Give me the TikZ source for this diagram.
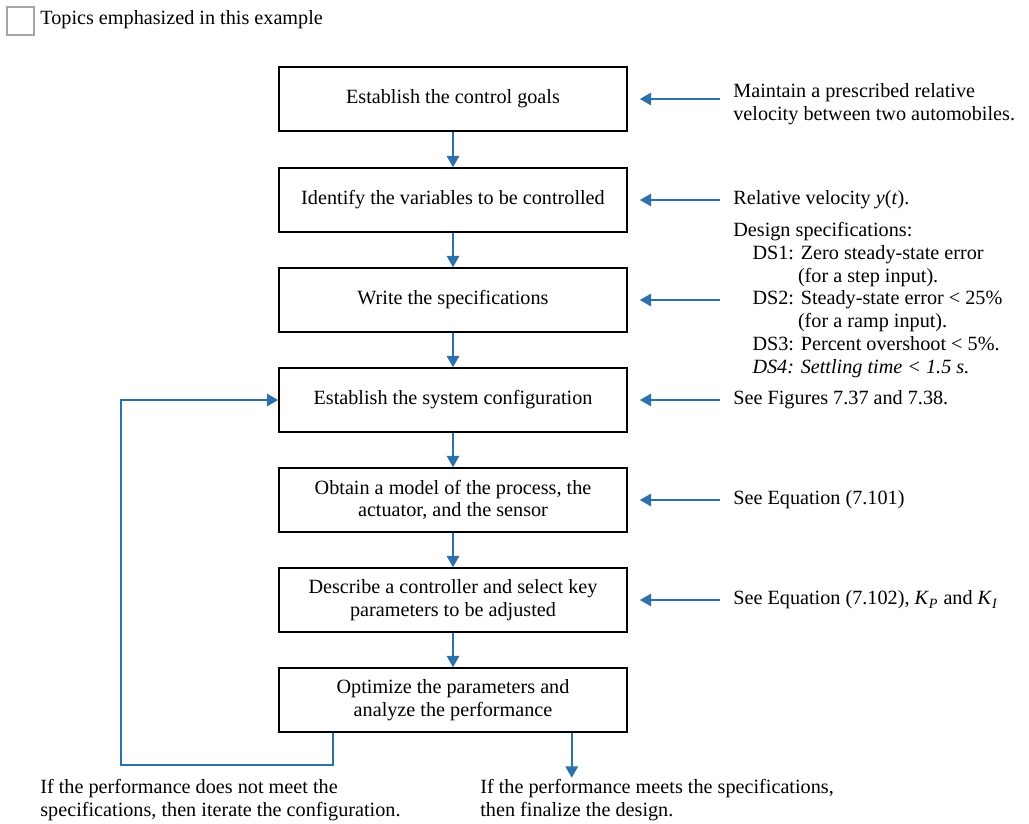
\documentclass[tikz,border=0pt]{standalone}
\usepackage{fontspec}
\setmainfont{Liberation Serif}
\usetikzlibrary{arrows.meta}
\definecolor{cflow}{RGB}{44,112,172}

\begin{document}
\begin{tikzpicture}[x=0.02cm,y=-0.02cm,
    every node/.style={font=\fontsize{11.5}{13}\selectfont},
    stage/.style={draw=black,line width=0.9pt,minimum width=6.96cm,minimum height=1.28cm,align=center,inner sep=2pt},
    note/.style={anchor=west,align=left,inner sep=0pt},
    flow/.style={draw=cflow,line width=1.4pt,-{Triangle[length=6.5pt,width=7pt]}}]
  \useasboundingbox (0,0) rectangle (1029,823);
  % legend
  \node[draw=gray!70,line width=0.6pt,minimum width=0.54cm,minimum height=0.56cm,inner sep=0pt] (legend) at (20.5,21) {};
  \node[note] (legendtxt) at (40,20) {Topics emphasized in this example};
  % design steps
  \foreach \n/\yy/\txt in {goals/99/{Establish the control goals},
      vars/200/{Identify the variables to be controlled},
      specs/300/{Write the specifications},
      config/400/{Establish the system configuration},
      model/500/{Obtain a model of the process, the\\actuator, and the sensor},
      ctrl/600/{Describe a controller and select key\\parameters to be adjusted},
      opt/700/{Optimize the parameters and\\analyze the performance}}
    \node[stage] (\n) at (453,\yy) {\txt};
  \foreach \a/\b in {goals/vars,vars/specs,specs/config,config/model,model/ctrl,ctrl/opt}
    \draw[flow] (\a) -- (\b);
  % notes on the right
  \node[note] (ngoals) at (733,104) {Maintain a prescribed relative\\velocity between two automobiles.};
  \node[note] (nvars) at (733,200) {Relative velocity \textit{y}(\textit{t}).};
  \node[note] (nspecs) at (733,300) {Design specifications:\\
      \hspace*{0.95em}DS1: Zero steady-state error\\
      \hspace*{3.2em}(for a step input).\\
      \hspace*{0.95em}DS2: Steady-state error < 25\%\\
      \hspace*{3.2em}(for a ramp input).\\
      \hspace*{0.95em}DS3: Percent overshoot < 5\%.\\
      \hspace*{0.95em}\textit{DS4: Settling time < 1.5 s.}};
  \node[note] (nconfig) at (733,400) {See Figures 7.37 and 7.38.};
  \node[note] (nmodel) at (733,500) {See Equation (7.101)};
  \node[note] (nctrl) at (733,600) {See Equation (7.102), \textit{K}\textsubscript{\textit{P}} and \textit{K}\textsubscript{\textit{I}}};
  \foreach \n in {goals,vars,specs,config,model,ctrl} {
    \coordinate (t\n) at ([xshift=1.84cm]\n.east);
    \draw[flow,shorten >=0.24cm] (t\n) -- (\n.east);
  }
  % iterate or finish
  \coordinate (loopbot) at (121,765);
  \draw[flow] ([xshift=1.1cm]opt.south west) |- (loopbot) |- (config.west);
  \coordinate (done) at ([xshift=-1.12cm,yshift=-0.9cm]opt.south east);
  \draw[flow] ([xshift=-1.12cm]opt.south east) -- (done);
  \node[note] (nfail) at (40,800) {If the performance does not meet the\\specifications, then iterate the configuration.};
  \node[note] (npass) at (480,800) {If the performance meets the specifications,\\then finalize the design.};
\end{tikzpicture}
\end{document}
